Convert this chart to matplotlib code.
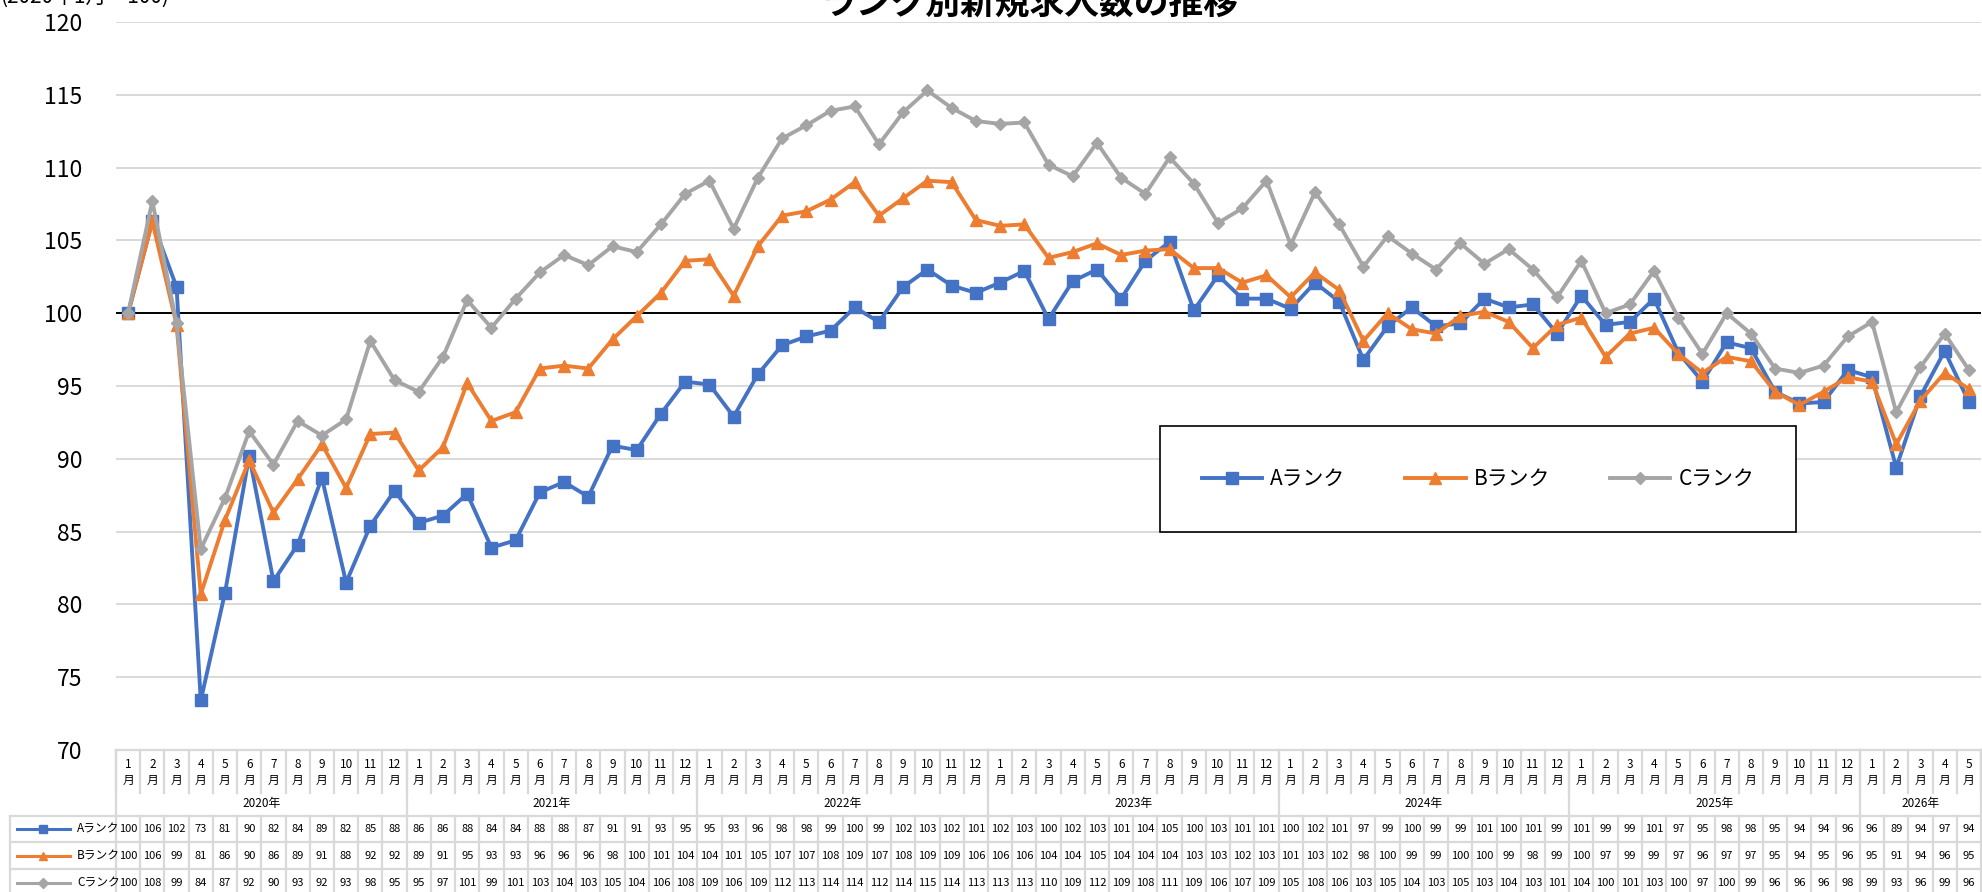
import numpy as np
import matplotlib
matplotlib.use('Agg')
import matplotlib.pyplot as plt

plt.rcParams['font.family'] = ['Noto Sans CJK JP', 'DejaVu Sans']

# Chart data (index, 2020年1月 = 100)
years = ['2020年', '2021年', '2022年', '2023年', '2024年', '2025年', '2026年']
months_per_year = [12, 12, 12, 12, 12, 12, 5]
series_names = ['Aランク', 'Bランク', 'Cランク']

rank_a = [100, 106.3, 101.8, 73.4, 80.8, 90.2, 81.6, 84.1, 88.7, 81.5, 85.4, 87.8,
          85.6, 86.1, 87.6, 83.9, 84.4, 87.7, 88.4, 87.4, 90.9, 90.6, 93.1, 95.3,
          95.1, 92.9, 95.8, 97.8, 98.4, 98.8, 100.4, 99.4, 101.8, 103.0, 101.9, 101.4,
          102.1, 102.9, 99.6, 102.2, 103.0, 101.0, 103.6, 104.9, 100.2, 102.6, 101.0, 101.0,
          100.3, 102.1, 100.8, 96.8, 99.1, 100.4, 99.1, 99.3, 101.0, 100.4, 100.6, 98.6,
          101.2, 99.2, 99.4, 101.0, 97.3, 95.3, 98.0, 97.6, 94.6, 93.8, 93.9, 96.1,
          95.6, 89.4, 94.3, 97.4, 93.9]
rank_b = [100, 106.3, 99.2, 80.7, 85.8, 89.9, 86.3, 88.6, 91.0, 88.0, 91.7, 91.8,
          89.2, 90.8, 95.2, 92.6, 93.2, 96.2, 96.4, 96.2, 98.2, 99.8, 101.4, 103.6,
          103.7, 101.2, 104.6, 106.7, 107.0, 107.8, 109.0, 106.7, 107.9, 109.1, 109.0, 106.4,
          106.0, 106.1, 103.8, 104.2, 104.8, 104.0, 104.3, 104.4, 103.1, 103.1, 102.1, 102.6,
          101.1, 102.8, 101.6, 98.1, 100.0, 98.9, 98.6, 99.8, 100.1, 99.4, 97.6, 99.2,
          99.7, 97.0, 98.6, 99.0, 97.2, 95.9, 97.0, 96.7, 94.6, 93.7, 94.6, 95.6,
          95.3, 91.0, 94.0, 95.9, 94.8]
rank_c = [100, 107.7, 99.3, 83.8, 87.3, 91.9, 89.6, 92.6, 91.6, 92.7, 98.1, 95.4,
          94.6, 97.0, 100.9, 99.0, 101.0, 102.8, 104.0, 103.3, 104.6, 104.2, 106.1, 108.2,
          109.1, 105.8, 109.3, 112.0, 112.9, 113.9, 114.2, 111.6, 113.8, 115.3, 114.1, 113.2,
          113.0, 113.1, 110.2, 109.4, 111.7, 109.3, 108.2, 110.7, 108.9, 106.2, 107.2, 109.1,
          104.7, 108.3, 106.1, 103.2, 105.3, 104.1, 103.0, 104.8, 103.4, 104.4, 103.0, 101.1,
          103.6, 100.0, 100.6, 102.9, 99.7, 97.2, 100.0, 98.6, 96.2, 95.9, 96.4, 98.4,
          99.4, 93.2, 96.3, 98.6, 96.1]

colors = ['#4472C4', '#ED7D31', '#A5A5A5']
markers = ['s', '^', 'D']
msizes = [8, 8.5, 6.5]
grid_c = '#d9d9d9'

month_labels = [str(m + 1) for n in months_per_year for m in range(n)]
x = np.arange(len(rank_a))
all_series = [rank_a, rank_b, rank_c]

W, H = 1983, 892
fig = plt.figure(figsize=(W / 100, H / 100), dpi=100)

# plot area in pixels
left, right, top, bottom = 116, 1981, 22, 750
ax = fig.add_axes([left / W, (H - bottom) / H, (right - left) / W, (bottom - top) / H])
ax.set_xlim(-0.5, len(x) - 0.5)
ax.set_ylim(70, 120)
ax.set_yticks(np.arange(70, 121, 5))
ax.set_xticks([])
ax.tick_params(axis='y', length=0, pad=24, labelsize=16.5)
ax.grid(axis='y', color=grid_c, lw=1.4)
ax.set_axisbelow(True)
for s in ['left', 'right', 'top']:
    ax.spines[s].set_visible(False)
ax.spines['bottom'].set_color(grid_c)
ax.spines['bottom'].set_linewidth(1.5)
ax.axhline(100, color='black', lw=1.4, zorder=1)

handles = []
for vals, c, m, ms, name in zip(all_series, colors, markers, msizes, series_names):
    h, = ax.plot(x, vals, color=c, lw=2.8, marker=m, markersize=ms, label=name, zorder=3)
    handles.append(h)

leg = fig.legend(handles=handles, loc='center', ncol=3, mode='expand',
                 bbox_to_anchor=(1160 / W, 1 - 532 / H, 636 / W, 106 / H),
                 fontsize=15, frameon=True, fancybox=False, edgecolor='black',
                 borderpad=2.0, borderaxespad=0, handlelength=2.9, handletextpad=0.4,
                 framealpha=1)
leg.get_frame().set_linewidth(1.2)

# title and unit note (cut off at the top edge like the original)
fig.text(1030 / W, 1 - 14 / H, 'ランク別新規求人数の推移', ha='center', va='baseline',
         fontsize=25, weight='bold')
fig.text(0, 1 - 3 / H, '(2020年1月＝100)', ha='left', va='baseline', fontsize=15)

# data table below the chart
tax = fig.add_axes([left / W, 0, (right - left) / W, (H - bottom) / H])
tax.set_xlim(-0.5, len(x) - 0.5)
tax.set_ylim(H, 749)
tax.axis('off')
colw = (right - left) / len(x)


def px(p):
    return (p - left) / colw - 0.5


lw_t = 1.6
label_left = px(10)
# month row
for i in range(len(x) + 1):
    tax.plot([i - 0.5, i - 0.5], [749, 792], color=grid_c, lw=lw_t, clip_on=False)
for i, lab in enumerate(month_labels):
    tax.text(i, 764, lab, ha='center', va='center', fontsize=8.5)
    tax.text(i, 780, '月', ha='center', va='center', fontsize=8.5)
# year row
start = 0
for y, n in zip(years, months_per_year):
    tax.plot([start - 0.5, start - 0.5], [749, 815], color=grid_c, lw=lw_t, clip_on=False)
    tax.text(start + (n - 1) / 2, 803, y, ha='center', va='center', fontsize=8.5)
    start += n
tax.plot([start - 0.5, start - 0.5], [749, 815], color=grid_c, lw=lw_t, clip_on=False)
tax.plot([-0.5, len(x) - 0.5], [749, 749], color=grid_c, lw=lw_t, clip_on=False)
# value rows
row_lines = [815, 842, 869, 896]
for yl in row_lines:
    tax.plot([label_left, len(x) - 0.5], [yl, yl], color=grid_c, lw=lw_t, clip_on=False)
for xv in [label_left] + [i - 0.5 for i in range(len(x) + 1)]:
    tax.plot([xv, xv], [815, 896], color=grid_c, lw=lw_t, clip_on=False)
for r, (vals, c, m, ms, name) in enumerate(zip(all_series, colors, markers, msizes, series_names)):
    yc = (row_lines[r] + row_lines[r + 1]) / 2
    tax.plot([px(17), px(70)], [yc, yc], color=c, lw=2.2, clip_on=False)
    tax.plot([px(43)], [yc], color=c, marker=m, markersize=ms * 0.75, clip_on=False)
    tax.text(px(77), yc, name, ha='left', va='center', fontsize=8.5)
    for i, v in enumerate(vals):
        tax.text(i, yc, f'{v:.0f}', ha='center', va='center', fontsize=8)

fig.savefig('out.png', dpi=100)
